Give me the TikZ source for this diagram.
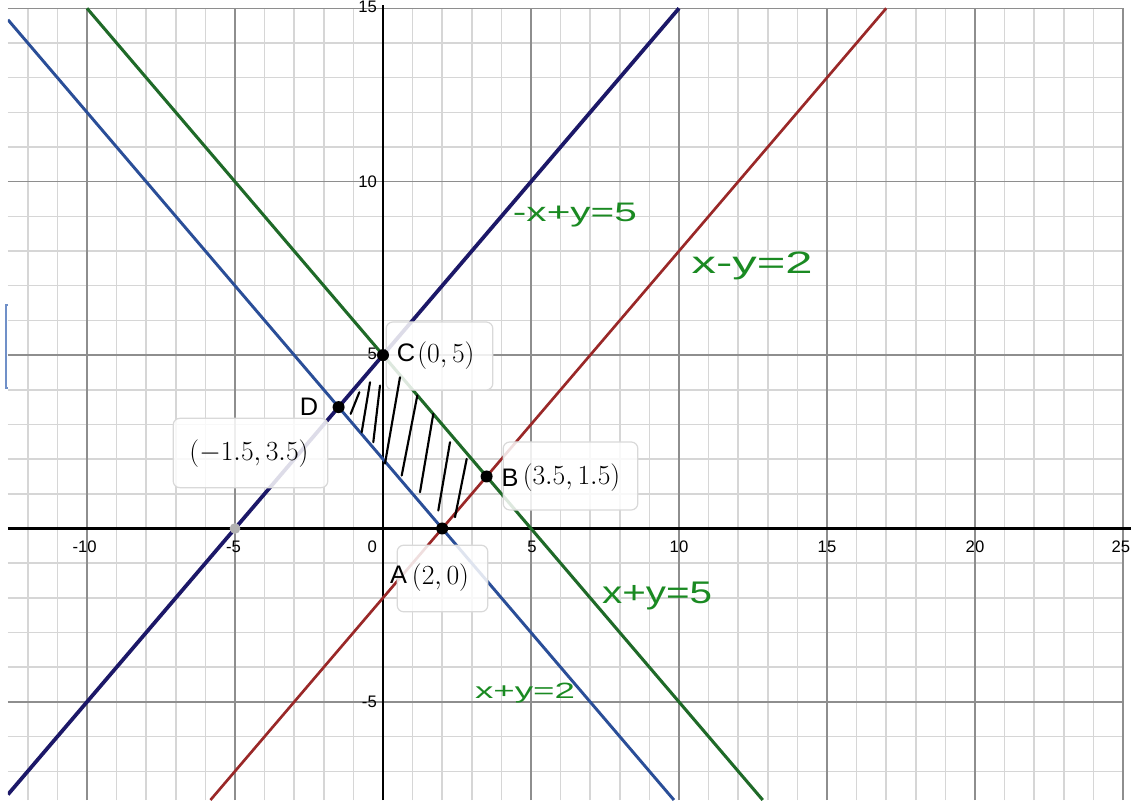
\documentclass[tikz,border=0pt]{standalone}
\usepackage{fontspec}
\setsansfont{Liberation Sans}
\usepackage{graphicx}
\definecolor{minorg}{HTML}{D6D6D6}
\definecolor{majorg}{HTML}{8E8E8E}
\definecolor{lblue}{HTML}{2A4E98}
\definecolor{lgreen}{HTML}{1F6A28}
\definecolor{lnavy}{HTML}{1C1868}
\definecolor{lred}{HTML}{9A2828}
\definecolor{hand}{HTML}{1A8A22}
\definecolor{bracketblue}{HTML}{7090C8}
\tikzset{
  minorline/.style={draw=minorg, line width=1.1pt},
  majorline/.style={draw=majorg, line width=1.1pt},
  axisline/.style={draw=black, line width=1.7pt},
  ticklbl/.style={font=\sffamily\fontsize{12.5}{15}\selectfont, inner sep=0pt},
  lblbox/.style={draw=black!15, line width=0.9pt, fill=white, fill opacity=0.85, rounded corners=5pt, inner sep=0pt},
  coordtxt/.style={font=\fontsize{22}{26}\selectfont, inner sep=0pt},
  handletter/.style={font=\sffamily\fontsize{19}{22}\selectfont, inner sep=0pt},
  handgreen/.style={text=hand, inner sep=0pt, font=\sffamily},
  dotnode/.style={circle, fill=black, minimum size=9pt, inner sep=0pt},
  greydot/.style={circle, fill=black!30, minimum size=8pt, inner sep=0pt},
  hatchline/.style={draw=black, line width=1.6pt, line cap=round},
  bracketline/.style={draw=bracketblue, line width=1.1pt},
}
\begin{document}
\begin{tikzpicture}[x=22.2pt,y=26.01pt]
\useasboundingbox (-12.939,-7.829) rectangle (25.270,15.239);
\fill[white] (-12.939,-7.829) rectangle (25.270,15.239);

% grid
\foreach \i in {-12,...,25} \draw[minorline] (\i,-7.829) -- (\i,15);
\foreach \j in {-7,...,15} \draw[minorline] (-12.67,\j) -- (25,\j);
\foreach \i in {-10,-5,5,10,15,20,25} \draw[majorline] (\i,-7.829) -- (\i,15);
\foreach \j in {-5,5,10,15} \draw[majorline] (-12.67,\j) -- (25,\j);
\draw[axisline] (-12.67,0) -- (25.27,0);
\draw[axisline] (0,-7.829) -- (0,15.1);

% left bracket
\draw[bracketline] (-12.67,6.445) -- (-12.737,6.445) -- (-12.737,4.051) -- (-12.67,4.051);

% tick labels
\node[ticklbl] (xm10) at (-10.08,-0.52) {-10};
\node[ticklbl] (xm5) at (-5.05,-0.52) {-5};
\node[ticklbl, anchor=east] (x0) at (-0.2,-0.52) {0};
\node[ticklbl] (x5) at (5.03,-0.52) {5};
\node[ticklbl] (x10) at (10,-0.52) {10};
\node[ticklbl] (x15) at (15,-0.52) {15};
\node[ticklbl] (x20) at (20,-0.52) {20};
\node[ticklbl, anchor=east] (x25) at (25.25,-0.52) {25};
\node[ticklbl, anchor=north east] (y15) at (-0.2,15.22) {15};
\node[ticklbl, anchor=east] (y10) at (-0.2,10.01) {10};
\node[ticklbl, anchor=east] (y5) at (-0.2,5.03) {5};
\node[ticklbl, anchor=east] (ym5) at (-0.2,-5.0) {-5};

% graph lines
\coordinate (p1a) at (-12.67,14.67);
\coordinate (p1b) at (9.829,-7.829);
\coordinate (p2a) at (-10,15);
\coordinate (p2b) at (12.829,-7.829);
\coordinate (p3a) at (-12.67,-7.67);
\coordinate (p3b) at (10,15);
\coordinate (p4a) at (-5.829,-7.829);
\coordinate (p4b) at (17,15);
\begin{scope}
\clip (-12.67,-7.829) rectangle (25,15.05);
\draw[lblue, line width=2.2pt] (p1a) -- (p1b);
\draw[lgreen, line width=2.3pt] (p2a) -- (p2b);
\draw[lnavy, line width=2.8pt] (p3a) -- (p3b);
\draw[lred, line width=2.0pt] (p4a) -- (p4b);
\end{scope}

% label boxes
\node[lblbox, minimum width=80pt, minimum height=51pt] (boxC) at (1.909,4.974) {};
\node[lblbox, minimum width=116pt, minimum height=52pt] (boxD) at (-4.476,2.177) {};
\node[lblbox, minimum width=101pt, minimum height=51pt] (boxB) at (6.334,1.514) {};
\node[lblbox, minimum width=68pt, minimum height=50pt] (boxA) at (2.010,-1.442) {};

% points
\node[greydot] (G) at (-5,0) {};
\node[dotnode] (A) at (2,0) {};
\node[dotnode] (B) at (3.5,1.5) {};
\node[dotnode] (C) at (0,5) {};
\node[dotnode] (D) at (-1.5,3.5) {};

% coordinate texts
\node[coordtxt] (tC) at (2.128,4.974) {$(0, 5)$};
\node[coordtxt] (tD) at (-4.527,2.163) {$(-1.5, 3.5)$};
\node[coordtxt] (tB) at (6.368,1.471) {$(3.5, 1.5)$};
\node[coordtxt] (tA) at (1.943,-1.427) {$(2, 0)$};

% handwritten point letters
\node[handletter] (hC) at (0.777,5.06) {C};
\node[handletter] (hD) at (-2.5,3.503) {D};
\node[handletter] (hB) at (4.29,1.456) {B};
\node[handletter] (hA) at (0.524,-1.341) {A};

% hatching
\draw[hatchline] (-1.091,3.306) -- (-0.800,3.929);
\draw[hatchline] (-0.720,2.776) -- (-0.439,4.217);
\draw[hatchline] (-0.328,2.488) -- (-0.101,4.122);
\draw[hatchline] (0.068,1.874) -- (0.574,4.361);
\draw[hatchline] (0.632,1.528) -- (1.159,3.834);
\draw[hatchline] (1.250,1.046) -- (1.699,3.306);
\draw[hatchline] (1.868,0.519) -- (2.264,2.488);
\draw[hatchline] (2.432,0.326) -- (2.828,2.009);

% handwritten equation labels
\node[handgreen] (e1) at (6.486,9.04) {\resizebox*{93pt}{18pt}{-x+y=5}};
\node[handgreen] (e2) at (12.47,7.57) {\resizebox*{90.75pt}{21pt}{x-y=2}};
\node[handgreen] (e3) at (9.26,-1.96) {\resizebox*{82.5pt}{21pt}{x+y=5}};
\node[handgreen] (e4) at (4.80,-4.74) {\resizebox*{75pt}{15pt}{x+y=2}};
\end{tikzpicture}
\end{document}
